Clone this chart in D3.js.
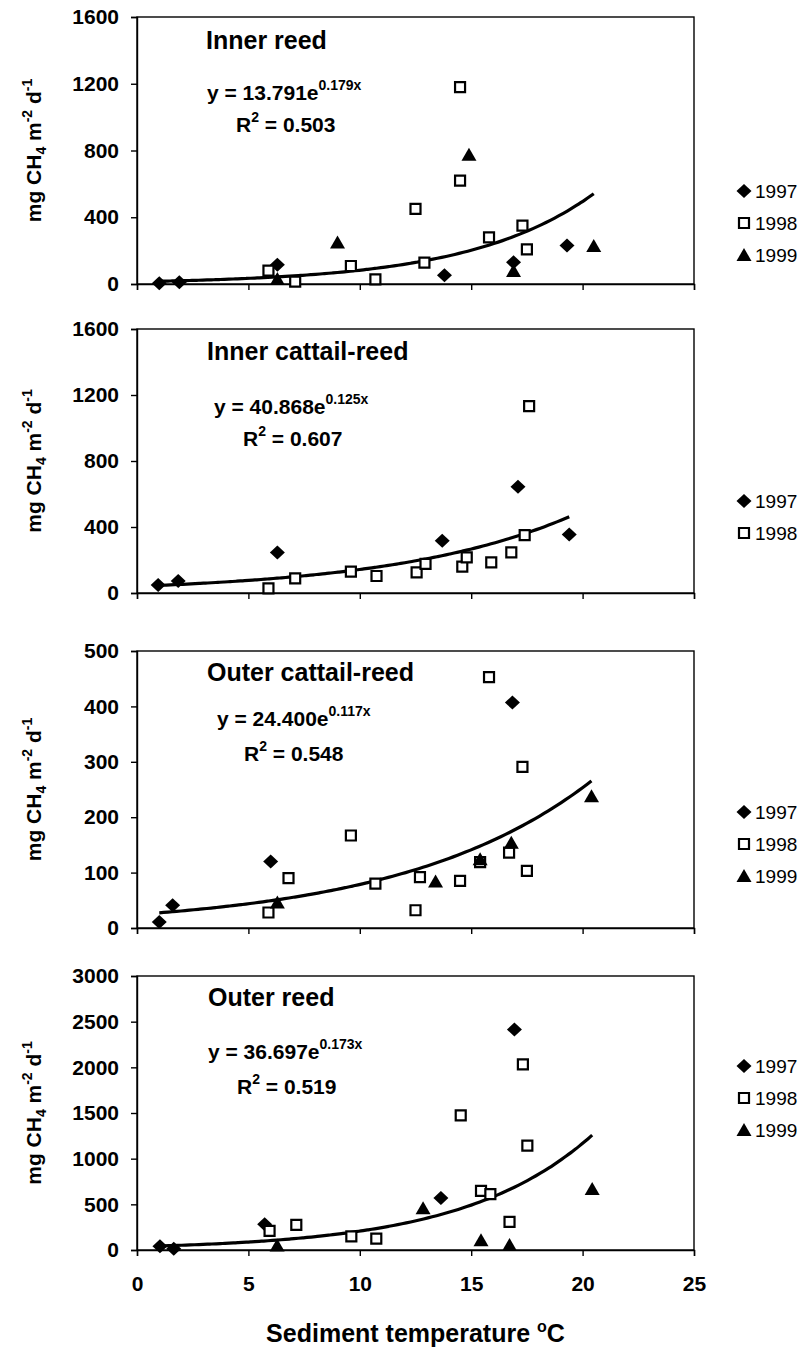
<!DOCTYPE html>
<html><head><meta charset="utf-8">
<script src="https://cdn.jsdelivr.net/npm/d3@7"></script>
<style>body{margin:0;background:#fff}svg{display:block}text{font-family:"Liberation Sans",Arial,sans-serif;fill:#000}</style>
</head><body>
<script>
const xTicks = [0,5,10,15,20,25];
const panelNames = ["Inner reed","Inner cattail-reed","Outer cattail-reed","Outer reed"];
const yTicksIR = [0,400,800,1200,1600];
const yTicksICR = [0,400,800,1200,1600];
const yTicksOCR = [0,100,200,300,400,500];
const yTicksOR = [0,500,1000,1500,2000,2500,3000];
const fitA = ["13.791","40.868","24.400","36.697"];
const fitB = ["0.179","0.125","0.117","0.173"];
const fitR2 = ["0.503","0.607","0.548","0.519"];
const years = ["1997","1998","1999"];

// Inner reed
const ir97 = [[1.0,5],[1.9,10],[6.3,115],[13.8,52],[16.9,130],[19.3,230]];
const ir98 = [[5.9,80],[7.1,14],[9.6,108],[10.7,28],[12.5,450],[12.9,128],[14.5,1180],[14.5,620],[15.8,280],[17.3,350],[17.5,208]];
const ir99 = [[6.3,30],[9.0,248],[14.9,775],[16.9,78],[20.5,228]];
// Inner cattail-reed
const icr97 = [[0.95,48],[1.85,73],[6.3,246],[13.7,317],[17.1,644],[19.4,355]];
const icr98 = [[5.9,28],[7.1,89],[9.6,129],[10.75,103],[12.55,125],[12.95,176],[14.6,160],[14.8,216],[15.9,186],[16.8,246],[17.4,351],[17.6,1133]];
// Outer cattail-reed
const ocr97 = [[1.0,11],[1.6,41],[6.0,120],[16.85,407]];
const ocr98 = [[5.9,28],[6.8,90],[9.6,167],[10.7,80],[12.5,32],[12.7,92],[14.5,85],[15.4,119],[15.8,453],[16.7,136],[17.3,291],[17.5,103]];
const ocr99 = [[6.3,46],[13.4,84],[15.4,124],[16.8,154],[20.4,238]];
// Outer reed
const or97 = [[1.03,40],[1.65,15],[5.73,282],[13.64,568],[16.94,2414]];
const or98 = [[5.95,209],[7.15,275],[9.62,150],[10.74,125],[14.53,1473],[15.44,648],[15.86,612],[16.72,308],[17.32,2033],[17.52,1143]];
const or99 = [[6.29,50],[12.84,458],[15.44,106],[16.72,55],[20.43,667]];

const panels = [
  {name:panelNames[0], ticks:yTicksIR, series:[ir97,ir98,ir99], top:17, bottom:284, a:fitA[0], b:fitB[0], r2:fitR2[0],
   titleY:49, eqY:100, r2Y:132, titleX:206, eqX:207, r2X:236, legY:191},
  {name:panelNames[1], ticks:yTicksICR, series:[icr97,icr98], top:329, bottom:593, a:fitA[1], b:fitB[1], r2:fitR2[1],
   titleY:360, eqY:414, r2Y:446, titleX:207, eqX:214, r2X:243, legY:501},
  {name:panelNames[2], ticks:yTicksOCR, series:[ocr97,ocr98,ocr99], top:651, bottom:928, a:fitA[2], b:fitB[2], r2:fitR2[2],
   titleY:681, eqY:726, r2Y:761, titleX:207, eqX:217, r2X:244, legY:812},
  {name:panelNames[3], ticks:yTicksOR, series:[or97,or98,or99], top:976, bottom:1250, a:fitA[3], b:fitB[3], r2:fitR2[3],
   titleY:1006, eqY:1059, r2Y:1094, titleX:208, eqX:208, r2X:237, legY:1066}
];

const W=804,H=1350, xL=137, xR=694;
const svg = d3.select("body").append("svg").attr("width",W).attr("height",H);
const x = d3.scaleLinear().domain([0,25]).range([xL,xR]);

function markerPath(k){
  if(k===0) return "M0,-7L7.5,0L0,7L-7.5,0Z";
  if(k===1) return "M-5,-5H5V5H-5Z";
  return "M0,-7L7.5,6L-7.5,6Z";
}
function drawMarker(g,k,px,py){
  const p = g.append("path").attr("d",markerPath(k)).attr("transform",`translate(${px},${py})`);
  if(k===1) p.attr("fill","#fff").attr("stroke","#000").attr("stroke-width",2.2);
  else p.attr("fill","#000");
}
const FF = "Liberation Sans, Arial, sans-serif";

panels.forEach((P,pi)=>{
  const ymax = d3.max(P.ticks);
  const y = d3.scaleLinear().domain([0,ymax]).range([P.bottom,P.top]);
  const g = svg.append("g");
  g.append("rect").attr("x",xL).attr("y",P.top).attr("width",xR-xL).attr("height",P.bottom-P.top)
    .attr("fill","none").attr("stroke","#000").attr("stroke-width",1.4);
  const ya = g.append("g").attr("transform",`translate(${xL},0)`)
    .call(d3.axisLeft(y).tickValues(P.ticks).tickSize(6).tickPadding(12).tickFormat(d3.format("d")));
  ya.select(".domain").attr("stroke-width",1.4);
  ya.selectAll("line").attr("stroke-width",1.4);
  ya.selectAll("text").style("font-size","21px").style("font-weight","bold").style("font-family",FF);
  const xa = g.append("g").attr("transform",`translate(0,${P.bottom})`)
    .call(d3.axisBottom(x).tickValues(xTicks).tickSize(6).tickPadding(20).tickFormat(pi===3?d3.format("d"):""));
  xa.select(".domain").attr("stroke-width",1.4);
  xa.selectAll("line").attr("stroke-width",1.4);
  xa.selectAll("text").style("font-size","21px").style("font-weight","bold").style("font-family",FF);

  const all = P.series.flat();
  const ext = d3.extent(all,d=>d[0]);
  const A=+P.a, B=+P.b;
  const xs = d3.range(ext[0],ext[1]+0.001,(ext[1]-ext[0])/100);
  g.append("path").datum(xs.map(v=>[v,A*Math.exp(B*v)]))
    .attr("d",d3.line().x(d=>x(d[0])).y(d=>y(d[1])).curve(d3.curveMonotoneX))
    .attr("fill","none").attr("stroke","#000").attr("stroke-width",3.2);

  P.series.forEach((s,k)=>{ s.forEach(d=>drawMarker(g,k,x(d[0]),y(d[1]))); });

  g.append("text").attr("x",P.titleX).attr("y",P.titleY).style("font-size","25px").style("font-weight","bold").text(P.name);
  const eq = g.append("text").attr("x",P.eqX).attr("y",P.eqY).style("font-size","21px").style("font-weight","bold");
  eq.append("tspan").text(`y = ${P.a}e`);
  eq.append("tspan").attr("dy",-10).style("font-size","14px").text(`${P.b}x`);
  const r2 = g.append("text").attr("x",P.r2X).attr("y",P.r2Y).style("font-size","21px").style("font-weight","bold");
  r2.append("tspan").text("R");
  r2.append("tspan").attr("dy",-10).style("font-size","14px").text("2");
  r2.append("tspan").attr("dy",10).text(` = ${P.r2}`);

  P.series.forEach((s,k)=>{
    const ly = P.legY + k*32;
    drawMarker(g,k,744,ly);
    g.append("text").attr("x",755).attr("y",ly+7).style("font-size","19px").text(years[k]);
  });

  const cy = (P.top+P.bottom)/2;
  const yt = g.append("text").attr("transform",`translate(41,${cy}) rotate(-90)`).attr("text-anchor","middle")
    .style("font-size","21px").style("font-weight","bold");
  yt.append("tspan").text("mg CH");
  yt.append("tspan").attr("dy",5).style("font-size","14px").text("4");
  yt.append("tspan").attr("dy",-5).text(" m");
  yt.append("tspan").attr("dy",-9).style("font-size","14px").text("-2");
  yt.append("tspan").attr("dy",9).text(" d");
  yt.append("tspan").attr("dy",-9).style("font-size","14px").text("-1");
});

const xt = svg.append("text").attr("x",(xL+xR)/2).attr("y",1342).attr("text-anchor","middle")
  .style("font-size","25px").style("font-weight","bold");
xt.append("tspan").text("Sediment temperature ");
xt.append("tspan").attr("dy",-10).style("font-size","16px").text("o");
xt.append("tspan").attr("dy",10).text("C");
</script>
</body></html>
